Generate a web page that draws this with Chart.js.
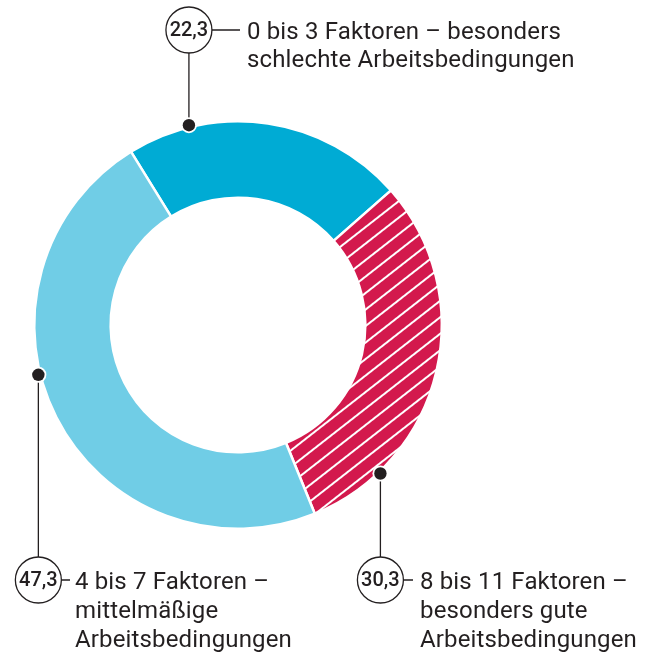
<!DOCTYPE html>
<html>
<head>
<meta charset="utf-8">
<script src="https://cdn.jsdelivr.net/npm/chart.js@4"></script>
<style>
  html, body { margin: 0; padding: 0; background: #fff; }
  #wrap { position: relative; width: 651px; height: 652px; }
</style>
</head>
<body>
<div id="wrap"><canvas id="chartFactors" width="651" height="652"></canvas></div>
<script>
// Anteile in Prozent, im Uhrzeigersinn ab dem dunkelblauen Segment
const categories = [
    "0 bis 3 Faktoren – besonders schlechte Arbeitsbedingungen",
    "8 bis 11 Faktoren – besonders gute Arbeitsbedingungen",
    "4 bis 7 Faktoren – mittelmäßige Arbeitsbedingungen",
];
const shares = [22.3, 30.3, 47.3];
const shareLabels = ["22,3", "30,3", "47,3"];
const labelLines = [
    ["0 bis 3 Faktoren – besonders", "schlechte Arbeitsbedingungen"],
    ["8 bis 11 Faktoren –", "besonders gute", "Arbeitsbedingungen"],
    ["4 bis 7 Faktoren –", "mittelmäßige", "Arbeitsbedingungen"],
];

const COLORS = { dark: "#00abd4", light: "#70cde6", red: "#d3194d", ink: "#231f20" };
const FONT = "Roboto, 'DejaVu Sans', sans-serif";

// Schraffur: weiße Linien auf Rot
function hatch(ctx) {
    const t = document.createElement("canvas");
    t.width = 20; t.height = 13;
    const g = t.getContext("2d");
    g.fillStyle = COLORS.red;
    g.fillRect(0, 0, 20, 13);
    g.fillStyle = "#fff";
    g.fillRect(0, 0, 20, 2);
    const p = ctx.createPattern(t, "repeat");
    p.setTransform(new DOMMatrix().rotate(-38));
    return p;
}

// Beschriftung: Winkel des Punktes am Außenrand, Kreis-y, Text-Abstand
const callouts = [
    { idx: 0, angle: -13.8, boxY: 30, lineTo: 240, textX: 247, lineH: 28 },
    { idx: 1, angle: 136.2, boxY: 580, lineTo: 413, textX: 420, lineH: 29 },
    { idx: 2, angle: 256, boxY: 580, lineTo: 70, textX: 75, lineH: 29 },
];

const calloutPlugin = {
    id: "callouts",
    afterDraw(chart) {
        const ctx = chart.ctx;
        const arc = chart.getDatasetMeta(0).data[0];
        const cx = arc.x, cy = arc.y, R = arc.outerRadius + 2;
        ctx.save();
        callouts.forEach(c => {
            const a = c.angle * Math.PI / 180;
            const px = cx + R * Math.sin(a);
            const py = cy - R * Math.cos(a);
            const r = 23;
            const below = c.boxY > py;
            // Führungslinie
            ctx.strokeStyle = COLORS.ink;
            ctx.lineWidth = 1.3;
            ctx.beginPath();
            ctx.moveTo(px, py);
            ctx.lineTo(px, below ? c.boxY - r : c.boxY + r);
            ctx.moveTo(px + r, c.boxY);
            ctx.lineTo(c.lineTo, c.boxY);
            ctx.stroke();
            // Kreis mit Wert
            ctx.fillStyle = "#fff";
            ctx.beginPath();
            ctx.arc(px, c.boxY, r, 0, Math.PI * 2);
            ctx.fill();
            ctx.stroke();
            ctx.fillStyle = COLORS.ink;
            ctx.font = "500 20px " + FONT;
            ctx.textAlign = "center";
            ctx.textBaseline = "middle";
            ctx.fillText(shareLabels[c.idx], px, c.boxY + 1);
            // Punkt
            ctx.beginPath();
            ctx.arc(px, py, 8, 0, Math.PI * 2);
            ctx.fillStyle = "#fff";
            ctx.fill();
            ctx.beginPath();
            ctx.arc(px, py, 6.2, 0, Math.PI * 2);
            ctx.fillStyle = COLORS.ink;
            ctx.fill();
            // Text
            ctx.font = "400 24px " + FONT;
            ctx.letterSpacing = "0.15px";
            ctx.textAlign = "left";
            ctx.textBaseline = "alphabetic";
            labelLines[c.idx].forEach((s, i) => {
                ctx.fillText(s, c.textX, c.boxY + 9 + i * c.lineH);
            });
            ctx.letterSpacing = "0px";
        });
        ctx.restore();
    },
};

const canvas = document.getElementById("chartFactors");
new Chart(canvas, {
    type: "doughnut",
    data: {
        labels: categories,
        datasets: [{
            data: shares,
            backgroundColor: [COLORS.dark, hatch(canvas.getContext("2d")), COLORS.light],
            borderColor: "#fff",
            borderWidth: 2.5,
            hoverOffset: 0,
        }],
    },
    options: {
        responsive: false,
        animation: false,
        cutout: "62.5%",
        rotation: -31.7,
        layout: { padding: { left: 33, top: 120, right: 208, bottom: 122 } },
        plugins: { legend: { display: false }, tooltip: { enabled: false } },
        events: [],
    },
    plugins: [calloutPlugin],
});
</script>
</body>
</html>
